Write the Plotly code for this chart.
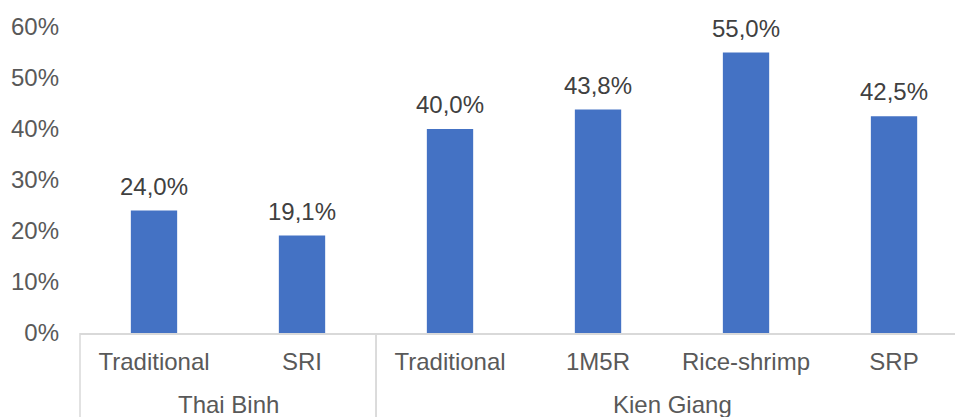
import plotly.graph_objects as go

# Yield-gain shares by province and farming practice
provinces = ["Thai Binh", "Thai Binh", "Kien Giang", "Kien Giang", "Kien Giang", "Kien Giang"]
practices = ["Traditional", "SRI", "Traditional", "1M5R", "Rice-shrimp", "SRP"]
values = [24.0, 19.1, 40.0, 43.8, 55.0, 42.5]

y_ticks = [0, 10, 20, 30, 40, 50, 60]
y_tick_labels = [f"{t}%" for t in y_ticks]

BAR_COLOR = "#4472C4"
TEXT_COLOR = "#595959"
LABEL_COLOR = "#404040"
LINE_COLOR = "#D9D9D9"
FONT = "Liberation Sans, Arial, sans-serif"

X_RANGE = [-0.5, 5.412]
positions = list(range(len(practices)))


def to_paper(x):
    """Convert an x data position into a paper fraction."""
    return (x - X_RANGE[0]) / (X_RANGE[1] - X_RANGE[0])


fig = go.Figure()
fig.add_trace(go.Bar(
    x=positions,
    y=values,
    marker=dict(color=BAR_COLOR, line=dict(width=0)),
    hoverinfo="skip",
))

# Value labels above each bar
for x, v in zip(positions, values):
    fig.add_annotation(
        x=x, y=v, xref="x", yref="y",
        text=f"{v:.1f}%".replace(".", ","),
        showarrow=False, yanchor="middle", yshift=24.5,
        font=dict(family=FONT, size=24, color=LABEL_COLOR),
    )

# Group the practices by province: group label and divider lines
groups = []
for i, p in enumerate(provinces):
    if groups and groups[-1][0] == p:
        groups[-1][2] = i
    else:
        groups.append([p, i, i])

for name, start, end in groups:
    fig.add_annotation(
        x=(start + end) / 2, y=0, xref="x", yref="paper",
        text=name, showarrow=False, yanchor="middle", yshift=-71,
        font=dict(family=FONT, size=24, color=TEXT_COLOR),
    )
    for edge in (start - 0.5, end + 0.5):
        fig.add_shape(
            type="line", xref="paper", yref="paper",
            x0=to_paper(edge), x1=to_paper(edge), y0=0, y1=-0.4,
            line=dict(color=LINE_COLOR, width=1.5),
        )

fig.update_layout(
    width=955, height=417,
    margin=dict(l=80, r=0, t=26.8, b=83.7),
    paper_bgcolor="white", plot_bgcolor="white",
    bargap=0.687,
    showlegend=False,
    font=dict(family=FONT, size=24, color=TEXT_COLOR),
)
fig.update_xaxes(
    range=X_RANGE,
    tickvals=positions, ticktext=practices,
    showline=True, linecolor=LINE_COLOR, linewidth=1.5,
    showgrid=False, zeroline=False,
    ticklabelstandoff=6,
    tickfont=dict(family=FONT, size=24, color=TEXT_COLOR),
)
fig.update_yaxes(
    range=[0, 60],
    tickvals=y_ticks, ticktext=y_tick_labels,
    showline=False, showgrid=False, zeroline=False,
    ticklabelstandoff=20,
    tickfont=dict(family=FONT, size=24, color=TEXT_COLOR),
)

fig.write_html("out.html")
